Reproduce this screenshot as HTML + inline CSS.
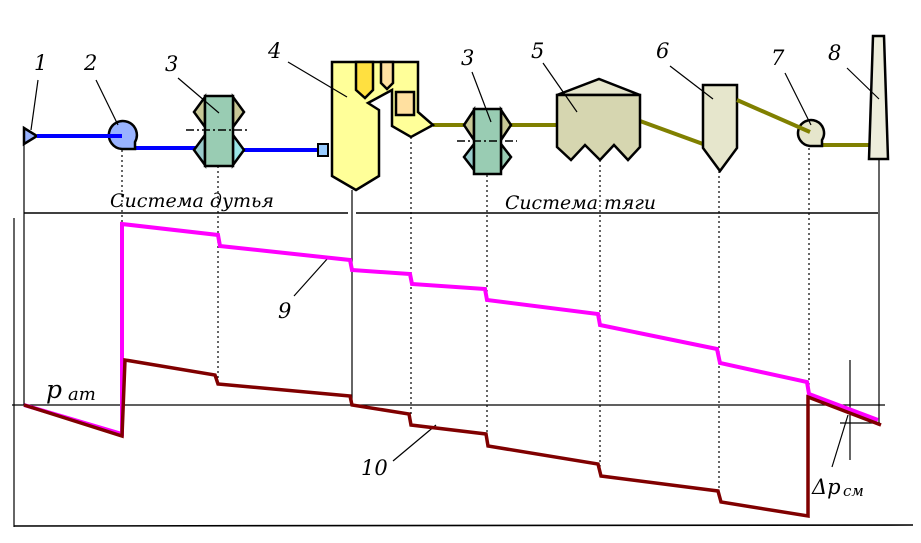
<!DOCTYPE html>
<html><head><meta charset="utf-8"><style>html,body{margin:0;padding:0;background:#fff}svg{display:block}text{font-family:"DejaVu Serif","Liberation Serif",serif;font-style:italic}</style></head><body>
<svg width="921" height="543" viewBox="0 0 921 543" xmlns="http://www.w3.org/2000/svg">
<g stroke="#000" stroke-width="1.2" fill="none">
<line x1="14" y1="218" x2="14" y2="527"/>
<line x1="14" y1="526" x2="913" y2="525" stroke-width="1.6"/>
<line x1="12" y1="405" x2="885" y2="405"/>
<line x1="24" y1="213" x2="348" y2="213" stroke-width="1.6"/>
<line x1="356" y1="213" x2="878" y2="213" stroke-width="1.6"/>
<line x1="24" y1="140" x2="24" y2="405"/>
<line x1="352" y1="190" x2="352" y2="405"/>
<line x1="879" y1="160" x2="879" y2="425"/>
<g stroke-dasharray="2,3">
<line x1="122" y1="150" x2="122" y2="432"/>
<line x1="218" y1="166" x2="218" y2="380"/>
<line x1="411" y1="137" x2="411" y2="416"/>
<line x1="487" y1="175" x2="487" y2="436"/>
<line x1="600" y1="160" x2="600" y2="468"/>
<line x1="719" y1="171" x2="719" y2="490"/>
<line x1="809" y1="148" x2="809" y2="395"/>
</g>
<line x1="850" y1="360" x2="850" y2="460"/>
<line x1="840" y1="423" x2="880" y2="423"/>
<line x1="832" y1="467" x2="848" y2="415"/>
<line x1="294" y1="296" x2="328" y2="258"/>
<line x1="393" y1="461" x2="436" y2="425"/>
</g>
<polyline fill="none" stroke="#f0f" stroke-width="4" points="24,405 122,434 122,224 218,235 220,246 350,260 352,270 410,274 412,284 485,289 487,300 598,314 600,325 717,349 720,363 807,382 809,394 878,420"/>
<polyline fill="none" stroke="#800000" stroke-width="3.5" points="24,405 122,436 125,360 215,375 218,384 350,396 352,405 409,414 411,425 486,434 488,446 598,464 601,476 718,491 721,502 808,516 808,397 881,425"/>
<g stroke="#0000ff" stroke-width="4" fill="none">
<line x1="135" y1="148" x2="200" y2="148"/>
<line x1="243" y1="150" x2="318" y2="150"/>
</g>
<g stroke="#808000" stroke-width="4" fill="none">
<line x1="433" y1="125" x2="465" y2="125"/>
<line x1="511" y1="125" x2="556" y2="125"/>
<line x1="640" y1="121" x2="703" y2="144"/>
<line x1="823" y1="145" x2="869" y2="145"/>
</g>
<g stroke="#000" stroke-width="2.5" stroke-linejoin="miter">
<polygon points="24,128 37,136 24,144" fill="#99b3ff"/>
<path d="M122,149 A14,14 0 1 1 135,142 L135,149 Z" fill="#99b3ff"/>
<polygon points="205,97 194,112 205,127" fill="#c8c896"/>
<polygon points="233,97 244,112 233,127" fill="#c8c896"/>
<polygon points="205,135 194,150 205,165" fill="#99cccc"/>
<polygon points="233,135 244,150 233,165" fill="#99e6e6"/>
<rect x="205" y="96" width="28" height="70" fill="#99ccb3"/>
<rect x="318" y="144" width="10" height="12" fill="#99ccff" stroke-width="2"/>
<polygon points="332,62 418,62 418,112 433,125 411,137 392,126 392,90 368,103 379,110 379,176 356,190 332,176" fill="#ffff99"/>
<polygon points="356,62 373,62 373,90 365,98 356,90" fill="#ffe040"/>
<polygon points="381,62 393,62 393,83 387,89 381,83" fill="#ffe0a0"/>
<rect x="396" y="92" width="18" height="23" fill="#ffe0a0"/>
<polygon points="474,110 464,125 474,140" fill="#c8c896"/>
<polygon points="501,110 511,125 501,140" fill="#c8c896"/>
<polygon points="474,144 464,157 474,170" fill="#99cccc"/>
<polygon points="501,144 511,157 501,170" fill="#99ccb3"/>
<rect x="474" y="109" width="27" height="65" fill="#99ccb3"/>
<polygon points="557,95 599,79 640,95" fill="#e6e6cc"/>
<polygon points="557,95 640,95 640,147 628,160 614,145 600,160 585,145 571,160 557,147" fill="#d6d6b0"/>
<polygon points="703,85 737,85 737,148 720,171 703,148" fill="#e6e6cc"/>
<path d="M810,146 A13,13 0 1 1 822,140 L822,146 Z" fill="#e6e6cc"/>
<polygon points="873,36 884,36 888,159 869,159" fill="#ededdc"/>
</g>
<line x1="37" y1="136" x2="122" y2="136" stroke="#0000ff" stroke-width="4"/>
<line x1="737" y1="100" x2="810" y2="132" stroke="#808000" stroke-width="4"/>
<g stroke="#000" stroke-width="1.5" stroke-dasharray="8,3,2,3">
<line x1="186" y1="130" x2="248" y2="130"/>
<line x1="457" y1="141" x2="517" y2="141"/>
</g>
<g stroke="#000" stroke-width="1.2">
<line x1="38" y1="80" x2="31" y2="130"/>
<line x1="96" y1="80" x2="118" y2="125"/>
<line x1="178" y1="78" x2="219" y2="113"/>
<line x1="288" y1="62" x2="347" y2="97"/>
<line x1="472" y1="72" x2="491" y2="122"/>
<line x1="543" y1="63" x2="577" y2="112"/>
<line x1="670" y1="66" x2="713" y2="99"/>
<line x1="785" y1="73" x2="811" y2="125"/>
<line x1="847" y1="68" x2="879" y2="99"/>
</g>
<g font-size="21" fill="#000">
<text x="34" y="70">1</text><text x="84" y="70">2</text><text x="165" y="71">3</text><text x="268" y="58">4</text>
<text x="461" y="65">3</text><text x="531" y="58">5</text><text x="656" y="58">6</text><text x="771" y="65">7</text><text x="828" y="60">8</text>
<text x="278" y="318">9</text><text x="361" y="475">10</text>
<text x="110" y="207" font-size="19" textLength="164" lengthAdjust="spacingAndGlyphs">Система дутья</text>
<text x="505" y="209" font-size="19" textLength="151" lengthAdjust="spacingAndGlyphs">Система тяги</text>
<text x="46" y="398" font-size="25">p</text><text x="68" y="400" font-size="18">ат</text>
<text x="812" y="494" font-size="21">Δp</text><text x="843" y="496" font-size="15">см</text>
</g>
</svg>
</body></html>
